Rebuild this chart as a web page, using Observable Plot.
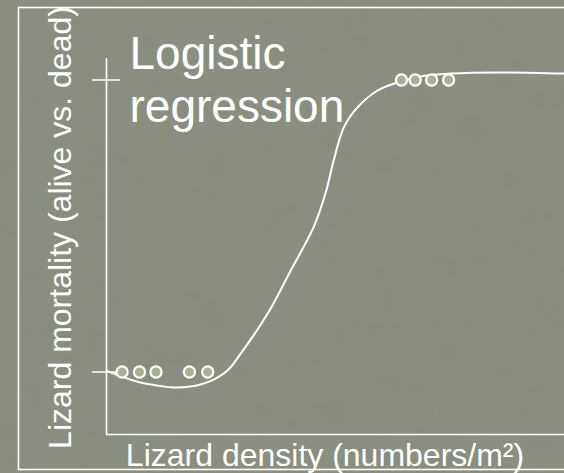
<!DOCTYPE html>
<html><head><meta charset="utf-8">
<script src="https://cdn.jsdelivr.net/npm/d3@7"></script>
<script src="https://cdn.jsdelivr.net/npm/@observablehq/plot@0.6"></script>
<style>
html,body{margin:0;padding:0;width:564px;height:473px;overflow:hidden;background-color:#888d7f;}
body{background-image:url("data:image/svg+xml;utf8,<svg xmlns='http://www.w3.org/2000/svg' width='564' height='473'><filter id='n'><feTurbulence type='fractalNoise' baseFrequency='0.035' numOctaves='4' seed='3'/><feColorMatrix type='matrix' values='0 0 0 0 0.3  0 0 0 0 0.32  0 0 0 0 0.28  0 0 0 0.35 -0.08'/></filter><rect width='100%' height='100%' filter='url(%23n)'/></svg>");}
#chart svg{display:block;background:transparent;}
</style></head><body><div id="chart"></div>
<script>
const title = "Logistic\nregression";
const xLabel = "Lizard density (numbers/m²)";
const yLabel = "Lizard mortality (alive vs. dead)";
const yTicks = [0, 1];
const xDomain = [0, 10];
const yDomain = [-0.214, 1.0736];
const lowDensity = [0.34, 0.72, 1.08, 1.81, 2.21];
const lowMortality = [0, 0, 0, 0, 0];
const highDensity = [6.44, 6.74, 7.10, 7.47];
const highMortality = [1, 1, 1, 1];
const curveDensity = [0, 0.20, 0.74, 1.18, 1.46, 1.84, 2.05, 2.34, 2.64, 2.93, 3.52, 4.02, 4.52, 4.78, 4.96, 5.18, 5.48, 5.92, 6.35, 6.86, 7.51, 8.60, 10];
const curveMortality = [0.005, -0.008, -0.036, -0.048, -0.053, -0.050, -0.043, -0.026, 0.005, 0.063, 0.200, 0.347, 0.495, 0.611, 0.724, 0.837, 0.906, 0.964, 0.991, 1.012, 1.022, 1.026, 1.022];

const points = lowDensity.map((x, i) => ({x, y: lowMortality[i]}))
  .concat(highDensity.map((x, i) => ({x, y: highMortality[i]})));
const curve = curveDensity.map((x, i) => ({x, y: curveMortality[i]}));

const font = "'Liberation Sans', Arial, sans-serif";
const chart = Plot.plot({
  width: 564,
  height: 473,
  marginLeft: 106,
  marginRight: 0,
  marginTop: 58,
  marginBottom: 39,
  style: {background: "transparent", fontFamily: font, color: "white"},
  x: {domain: xDomain, axis: null},
  y: {domain: yDomain, axis: null},
  marks: [
    Plot.frame({stroke: "white", strokeWidth: 1.6, insetLeft: -88, insetTop: -51, insetBottom: -35, insetRight: -10}),
    Plot.ruleX([xDomain[0]], {stroke: "white", strokeWidth: 1.6}),
    Plot.ruleY([yDomain[0]], {stroke: "white", strokeWidth: 1.6}),
    Plot.axisY({ticks: yTicks, tickSize: 28, dx: 14, tickFormat: () => "", label: null, stroke: "white", strokeWidth: 1.5}),
    Plot.line(curve, {x: "x", y: "y", curve: "catmull-rom", stroke: "white", strokeWidth: 2}),
    Plot.dot(points, {x: "x", y: "y", r: 5.6, fill: "#a5b48c", stroke: "white", strokeWidth: 2.2}),
    Plot.text([title], {text: d => d, frameAnchor: "top-left", textAnchor: "start", lineAnchor: "top", dx: 23, dy: -27, fontSize: 46, lineHeight: 1.15, fill: "white"}),
    Plot.text([yLabel], {text: d => d, frameAnchor: "left", rotate: -90, textAnchor: "middle", lineAnchor: "middle", dx: -46, dy: -19, fontSize: 32, fill: "white"}),
    Plot.text([xLabel], {text: d => d, frameAnchor: "bottom", textAnchor: "middle", lineAnchor: "middle", dx: -10.5, dy: 21, fontSize: 32, fill: "white"})
  ]
});
document.getElementById("chart").appendChild(chart);
</script></body></html>
